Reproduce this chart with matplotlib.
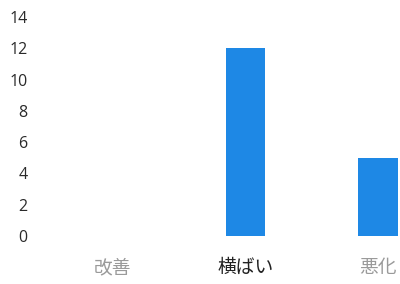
import matplotlib.pyplot as plt

categories = ['改善', '横ばい', '悪化']
values = [0, 12, 5]
label_colors = ['#9a9a9a', '#222222', '#9a9a9a']
yticks = [0, 2, 4, 6, 8, 10, 12, 14]

plt.rcParams['font.family'] = ['Noto Sans CJK JP', 'DejaVu Sans']

fig = plt.figure(figsize=(4, 2.84), dpi=100)
ax = fig.add_axes([0.10, 0.169, 0.90, 0.771])

x = range(len(categories))
ax.bar(x, values, width=0.30, color='#1e88e5')

ax.set_xlim(-0.55, 2.165)
ax.set_ylim(0, 14)
ax.set_yticks(yticks)
ax.set_yticklabels([str(v) for v in yticks], fontsize=11.5, color='#2a2a2a',
                   family=['Open Sans', 'DejaVu Sans'])
ax.set_xticks(list(x))
ax.set_xticklabels(categories, fontsize=13.5)
for lbl, c in zip(ax.get_xticklabels(), label_colors):
    lbl.set_color(c)

ax.tick_params(axis='both', length=0)
ax.tick_params(axis='y', pad=9)
ax.tick_params(axis='x', pad=15)
for s in ax.spines.values():
    s.set_visible(False)

fig.savefig('out.png', dpi=100)
